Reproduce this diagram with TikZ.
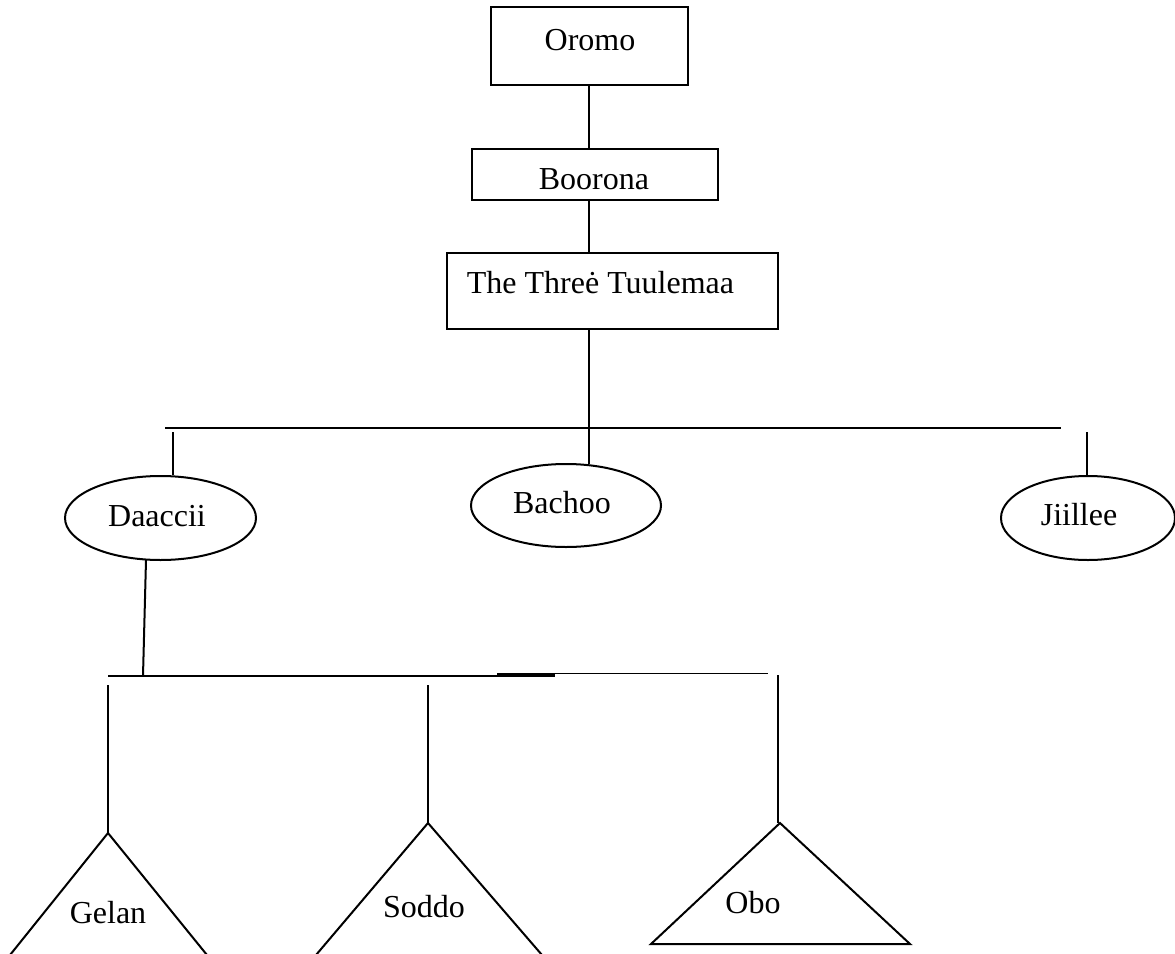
\documentclass[tikz,border=0pt]{standalone}
\usepackage{fontspec}
\setmainfont{Liberation Serif}
\usetikzlibrary{shapes.geometric}
\begin{document}
\begin{tikzpicture}[x=1pt,y=-1pt,line width=2pt,
  box/.style={draw,rectangle,inner sep=0pt},
  oval/.style={draw,ellipse,inner sep=0pt},
  txt/.style={anchor=base,inner sep=0pt,font=\fontsize{32}{36}\selectfont},
  tri/.style={draw,line join=miter}]
\useasboundingbox (0,0) rectangle (1175,953);
% boxes
\node[box,minimum width=197pt,minimum height=78pt] (oromo) at (589.5,46) {};
\node[box,minimum width=246pt,minimum height=51pt] (boorona) at (595,174.5) {};
\node[box,minimum width=331pt,minimum height=76pt] (tuul) at (612.5,291) {};
\node[txt] (toromo) at (590,50) {Oromo};
\node[txt] (tboorona) at (594,189) {Boorona};
\node[txt] (ttuul) at (600.5,293) {The Threė Tuulemaa};
% ellipses
\node[oval,minimum width=191pt,minimum height=84pt] (daaccii) at (160.5,518) {};
\node[oval,minimum width=190pt,minimum height=83pt] (bachoo) at (566,505.5) {};
\node[oval,minimum width=174pt,minimum height=84pt] (jiillee) at (1088,518) {};
\node[txt] (tdaaccii) at (157,526) {Daaccii};
\node[txt] (tbachoo) at (562,513) {Bachoo};
\node[txt] (tjiillee) at (1079,525) {Jiillee};
% triangles
\coordinate (gA) at (108,833);
\coordinate (sA) at (428,823);
\coordinate (oA) at (780,823);
\draw[tri] (gA) -- (10,955) (gA) -- (207,955);
\draw[tri] (sA) -- (316,955) (sA) -- (542,955);
\draw[tri] (oA) -- (651,944) -- (910,944) -- cycle;
\node[txt] (tgelan) at (108,923) {Gelan};
\node[txt] (tsoddo) at (424,917) {Soddo};
\node[txt] (tobo) at (753,913) {Obo};
% junction coordinates
\coordinate (h1L) at (165,428);
\coordinate (h1R) at (1061,428);
\coordinate (dS) at (173,432);
\coordinate (jS) at (1087,432);
\coordinate (dB) at (146,560);
\coordinate (h2J) at (143,676);
\coordinate (h2L) at (108,676);
\coordinate (h2M) at (555,676);
\coordinate (h3L) at (497,673.5);
\coordinate (h3R) at (768,673.5);
\coordinate (gS) at (108,685);
\coordinate (sS) at (428,685);
\coordinate (oS) at (778,675);
\coordinate (oT) at (589,85);
% connectors
\draw (oT) -- (oT |- boorona.north);
\draw (589,200) -- (589,253);
\draw (589,329) -- (589,464);
\draw (h1L) -- (h1R);
\draw (dS) -- (dS |- daaccii.north);
\draw (jS) -- (jS |- jiillee.north);
\draw (dB) -- (h2J);
\draw (h2L) -- (h2M);
\draw[line width=1.5pt] (h3L) -- (h3R);
\draw[line width=3pt] (497,675) -- (555,675);
\draw (gS) -- (gA);
\draw (sS) -- (sA);
\draw (oS) -- (778,823);
\end{tikzpicture}
\end{document}
